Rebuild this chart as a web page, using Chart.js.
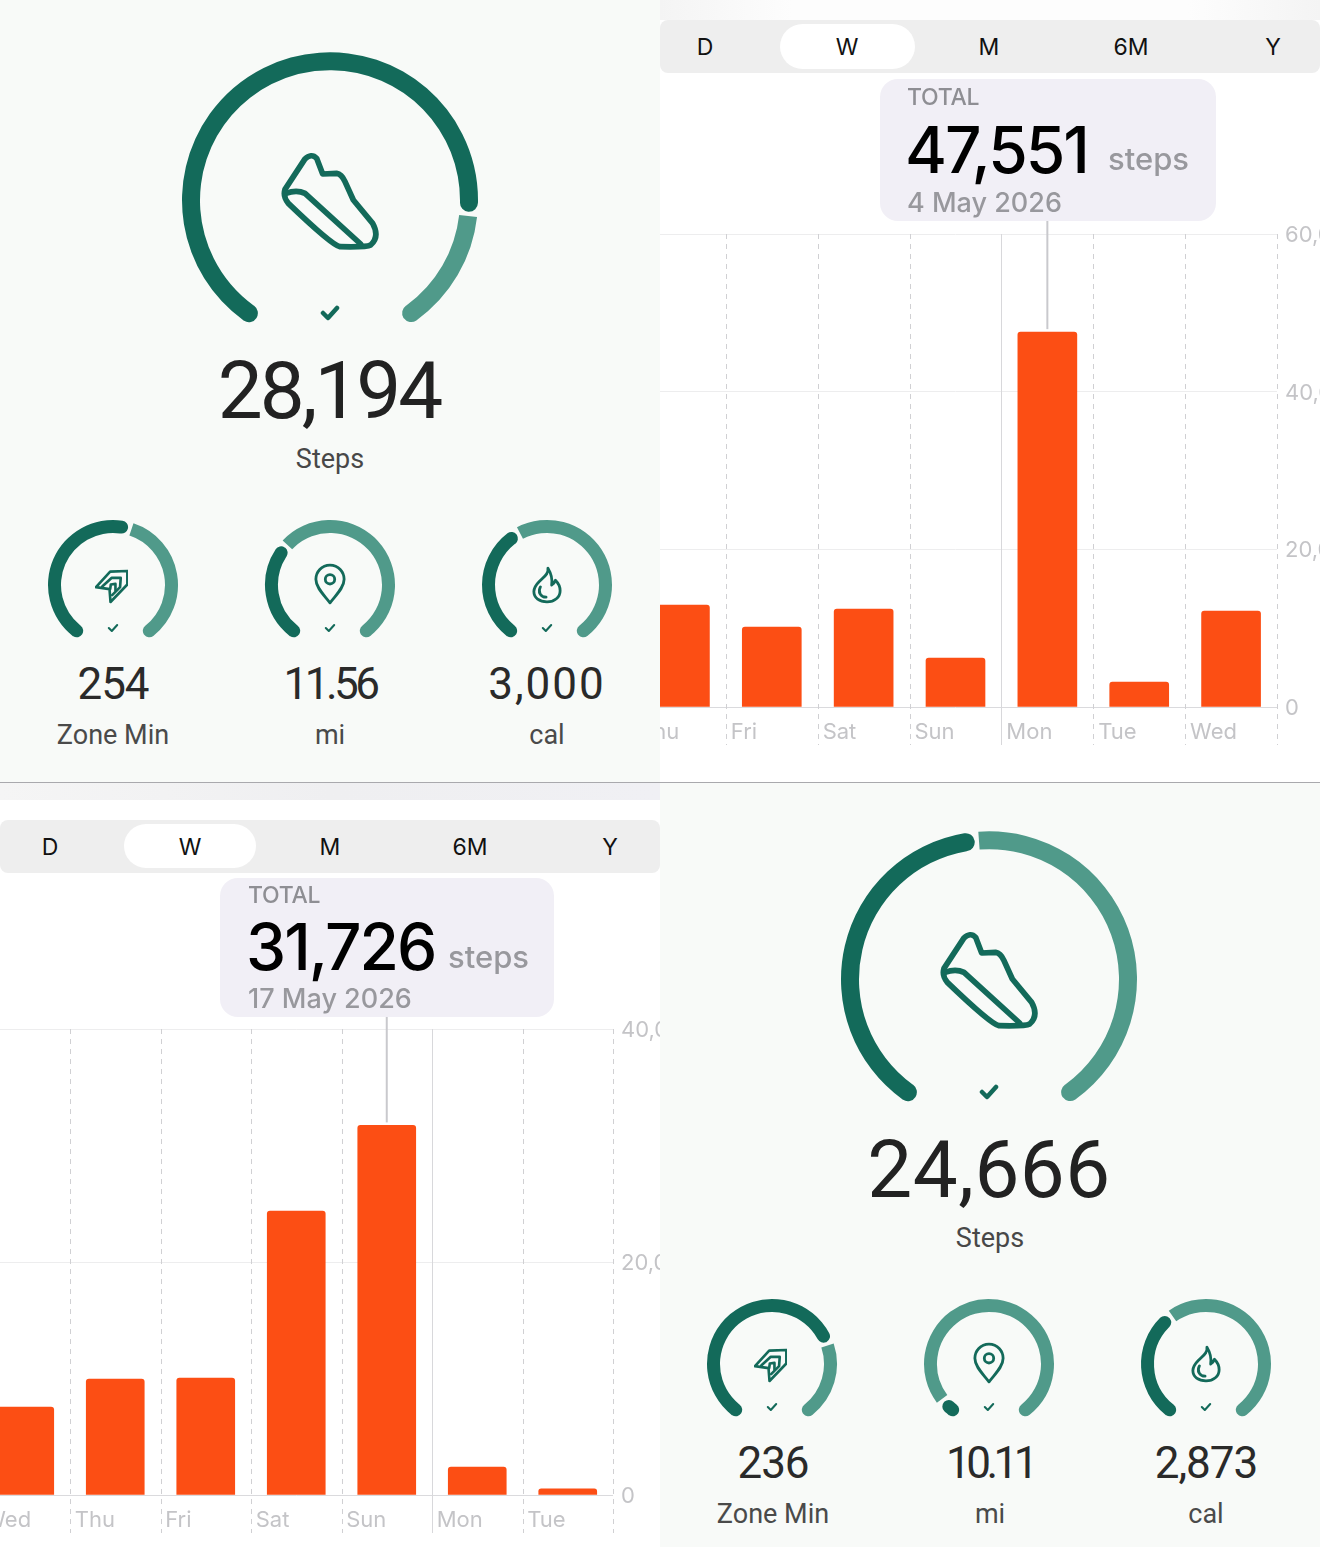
<!DOCTYPE html>
<html lang="en">
<head>
<meta charset="UTF-8">
<title>Steps</title>
<script src="https://cdn.jsdelivr.net/npm/chart.js"></script>
<style>
  html, body { margin: 0; padding: 0; background: #fff; }
  #page { position: relative; width: 1320px; height: 1547px; overflow: hidden; }
  .panel { position: absolute; overflow: hidden; }
  .mint { background: #f8faf8; }
  .t { position: absolute; white-space: nowrap; line-height: 1; }
  .c { transform: translateX(-50%); }
  .big { font: 400 80px Roboto, sans-serif; color: #222; letter-spacing: -3px; }
  .bigl { font: 400 27px Roboto, sans-serif; color: #484848; }
  .num { font: 400 44px Roboto, sans-serif; color: #2a2a2a; letter-spacing: -1px; }
  .lab { font: 400 27px Roboto, sans-serif; color: #4a4a4a; }
  .band { position: absolute; height: 53px; background: #eeeeee; border-radius: 8px; }
  .pill { position: absolute; height: 45px; background: #fff; border-radius: 23px; }
  .seg { font: 400 23px Inter, sans-serif; color: #111; }
  .box { position: absolute; background: #f1eff6; border-radius: 18px; z-index: 3; }
  .tot { font: 500 23px Inter, sans-serif; color: #8e8e93; letter-spacing: -.3px; }
  .val { font: 500 64px Inter, sans-serif; color: #000; letter-spacing: -2px; }
  .unit { font: 500 31px Inter, sans-serif; color: #98989d; }
  .day { font: 500 27px Inter, sans-serif; color: #98989d; }
  canvas { position: absolute; }
  svg.ic { position: absolute; fill: none; stroke: #136a5a; stroke-linejoin: round; stroke-linecap: round; }
</style>
</head>
<body>
<div id="page">
  <svg width="0" height="0" style="position:absolute">
    <symbol id="shoe" viewBox="390 360 300 300">
      <path d="M405 478 L464 388 Q484 368 500 385 L518 432 L560 430 Q575 432 585 455 L610 510 L668 580 Q690 620 662 645 Q650 652 570 650 Q545 645 415 520 Q398 500 405 478 Z"/>
      <path d="M408 490 Q440 478 465 490 L632 642"/>
    </symbol>
    <symbol id="chev" viewBox="0 0 100 100">
      <path d="M98 3 L46 5 L3 52 L44 58 L47 97 L98 44 Z"/>
      <path d="M22 50 L50 24 L78 24 L76 52 L52 76"/>
      <path d="M46 58 L48 44 L62 42 L62 62"/>
    </symbol>
    <symbol id="pin" viewBox="0 0 34 44">
      <path d="M17 2 C8 2 2 9 2 17 C2 26 11 34 17 42 C23 34 32 26 32 17 C32 9 26 2 17 2 Z"/>
      <circle cx="17" cy="17" r="5"/>
    </symbol>
    <symbol id="flame" viewBox="0 0 32 40">
      <path d="M17 2 C18 8 13 11 8 16 C4 20 2 23 2 27 C2 34 8 38 16 38 C24 38 30 33 30 26 C30 21 27 17 25 15 C24 18 23 19 21 20 C22 13 20 7 17 2 Z"/>
      <path d="M9 22 C6 27 9 33 15 33"/>
    </symbol>
    <symbol id="tick" viewBox="0 0 20 16">
      <path d="M3 8 L8 13 L17 3"/>
    </symbol>
  </svg>

  <div class="panel mint" id="p1" style="left:0;top:0;width:660px;height:782px"></div>
  <div class="panel mint" id="p4" style="left:660px;top:783px;width:660px;height:764px"></div>

  <div class="panel" id="p2" style="left:660px;top:0;width:660px;height:782px;background:#fff">
    <div style="position:absolute;left:0;top:0;width:660px;height:20px;background:linear-gradient(90deg,#f4f4f4,#fdfdfd 20%,#fdfdfd 80%,#f4f4f4)"></div>
    <div class="band" style="left:0;top:20px;width:660px"></div>
    <div class="pill" style="left:120px;top:24px;width:135px"></div>
    <div class="t c seg" style="left:45px;top:33px">D</div>
    <div class="t c seg" style="left:187px;top:33px">W</div>
    <div class="t c seg" style="left:329px;top:33px">M</div>
    <div class="t c seg" style="left:471px;top:33px">6M</div>
    <div class="t c seg" style="left:613px;top:33px">Y</div>
    <div class="box" style="left:220px;top:79px;width:336px;height:142px">
      <div class="t tot" style="left:27px;top:4px">TOTAL</div>
      <div class="t val" style="left:25px;top:32px">47,551</div>
      <div class="t unit" style="left:228px;top:61px">steps</div>
      <div class="t day" style="left:27px;top:107px">4 May 2026</div>
    </div>
    <canvas id="barsA" width="800" height="575" style="left:-60px;top:200px"></canvas>
  </div>

  <div class="panel" id="p3" style="left:0;top:783px;width:660px;height:764px;background:#fff">
    <div style="position:absolute;left:0;top:0;width:660px;height:17px;background:linear-gradient(90deg,#f5f5f5,#efeff1 50%,#f0f0f4)"></div>
    <div class="band" style="left:0;top:37px;width:660px"></div>
    <div class="pill" style="left:124px;top:41px;width:132px;height:44px"></div>
    <div class="t c seg" style="left:50px;top:50px">D</div>
    <div class="t c seg" style="left:190px;top:50px">W</div>
    <div class="t c seg" style="left:330px;top:50px">M</div>
    <div class="t c seg" style="left:470px;top:50px">6M</div>
    <div class="t c seg" style="left:610px;top:50px">Y</div>
    <div class="box" style="left:220px;top:95px;width:334px;height:139px">
      <div class="t tot" style="left:28px;top:3px">TOTAL</div>
      <div class="t val" style="left:26px;top:30px">31,726</div>
      <div class="t unit" style="left:228px;top:60px">steps</div>
      <div class="t day" style="left:28px;top:104px">17 May 2026</div>
    </div>
    <canvas id="barsB" width="800" height="560" style="left:-60px;top:200px"></canvas>
  </div>

  <div style="position:absolute;left:0;top:782px;width:1320px;height:1px;background:#a9a9ad"></div>

  <div class="t c big" style="left:329px;top:344px">28,194</div>
  <div class="t c bigl" style="left:330px;top:443px">Steps</div>
  <div class="t c num" style="left:113px;top:658px">254</div>
  <div class="t c lab" style="left:113px;top:719px">Zone Min</div>
  <div class="t c num" style="left:330px;top:658px;letter-spacing:-3.5px">11.56</div>
  <div class="t c lab" style="left:330px;top:719px">mi</div>
  <div class="t c num" style="left:547px;top:658px;letter-spacing:2px">3,000</div>
  <div class="t c lab" style="left:547px;top:719px">cal</div>

  <div class="t c big" style="left:989px;top:1123px;letter-spacing:.5px">24,666</div>
  <div class="t c bigl" style="left:990px;top:1222px">Steps</div>
  <div class="t c num" style="left:773px;top:1437px">236</div>
  <div class="t c lab" style="left:773px;top:1498px">Zone Min</div>
  <div class="t c num" style="left:990px;top:1437px;letter-spacing:-4.5px">10.11</div>
  <div class="t c lab" style="left:990px;top:1498px">mi</div>
  <div class="t c num" style="left:1206px;top:1437px">2,873</div>
  <div class="t c lab" style="left:1206px;top:1498px">cal</div>
</div>

<script>
// bar values
const weekLabelsA = ['Thu', 'Fri', 'Sat', 'Sun', 'Mon', 'Tue', 'Wed'];
const stepsA = [12940, 10150, 12430, 6220, 47551, 3170, 12180];
const weekLabelsB = ['Wed', 'Thu', 'Fri', 'Sat', 'Sun', 'Mon', 'Tue'];
const stepsB = [7550, 9960, 10040, 24380, 31726, 2400, 520];

// share of each ring that is dark, in the order steps, zone, mi, cal
const ringsA = [0.82, 0.55, 0.33, 0.395];
const ringsB = [0.48, 0.73, 0.06, 0.37];

const TEAL = '#136a5a';
const LIGHT = '#509a8a';
const ORANGE = '#fc4e14';
const SWEEP = 296;

// dashed day dividers, Monday gets a solid one, and the callout stem
const dayLines = {
  id: 'dayLines',
  beforeDatasetsDraw(chart, args, opts) {
    const x = chart.scales.x, ctx = chart.ctx, area = chart.chartArea;
    const cell = x.getPixelForValue(1) - x.getPixelForValue(0);
    ctx.save();
    ctx.lineWidth = 1;
    for (let i = 0; i <= opts.count; i++) {
      const px = Math.round(x.getPixelForValue(i) - cell / 2) + 0.5;
      ctx.strokeStyle = i === opts.solid ? '#d8d8db' : '#d0d0d3';
      ctx.setLineDash(i === opts.solid ? [] : [5, 5]);
      ctx.beginPath();
      ctx.moveTo(px, area.top);
      ctx.lineTo(px, area.bottom + 38);
      ctx.stroke();
    }
    ctx.restore();
  },
  afterDatasetsDraw(chart, args, opts) {
    const bar = chart.getDatasetMeta(0).data[opts.peak], ctx = chart.ctx;
    ctx.save();
    ctx.strokeStyle = '#c9c9cd';
    ctx.lineWidth = 2;
    ctx.beginPath();
    ctx.moveTo(bar.x, 0);
    ctx.lineTo(bar.x, bar.y - 3);
    ctx.stroke();
    ctx.restore();
  }
};

function barChart(id, labels, values, o) {
  const axisFont = { family: 'Inter, sans-serif', size: 22 };
  return new Chart(document.getElementById(id), {
    type: 'bar',
    data: { labels: labels, datasets: [{
      data: values,
      backgroundColor: ORANGE,
      barThickness: o.bar,
      borderRadius: 3,
      borderSkipped: 'bottom'
    }] },
    plugins: [dayLines],
    options: {
      responsive: false,
      animation: false,
      layout: { padding: { left: o.left, top: o.top, right: 0, bottom: 0 } },
      plugins: {
        legend: { display: false },
        tooltip: { enabled: false },
        dayLines: { count: labels.length, solid: o.solid, peak: o.peak }
      },
      scales: {
        x: {
          grid: { display: false },
          border: { display: false },
          afterFit(s) { s.height = o.xh; },
          ticks: {
            autoSkip: false,
            maxRotation: 0,
            align: 'start',
            labelOffset: o.labelOffset,
            padding: 4,
            color: '#c4c4c7',
            font: axisFont
          }
        },
        y: {
          position: 'right',
          min: 0,
          max: o.max,
          afterFit(s) { s.width = o.yw; },
          border: { display: false },
          grid: {
            drawTicks: false,
            color: (c) => c.tick.value === 0 ? '#dadadd' : '#ededee'
          },
          ticks: {
            stepSize: 20000,
            padding: 8,
            labelOffset: 1.5,
            color: '#c4c4c7',
            font: axisFont,
            callback: (v) => v.toLocaleString('en-US')
          }
        }
      }
    }
  });
}

barChart('barsA', weekLabelsA, stepsA, { bar: 59, left: 34, top: 34, solid: 4, peak: 4, max: 60000, xh: 68, yw: 123, labelOffset: -41 });
barChart('barsB', weekLabelsB, stepsB, { bar: 58, left: 39.5, top: 46, solid: 5, peak: 4, max: 40000, xh: 48, yw: 127, labelOffset: -40.5 });

function ring(cx, cy, R, thick, share, gap) {
  const side = 2 * R + 6;
  const cv = document.createElement('canvas');
  cv.width = side;
  cv.height = side;
  // Chart.js pushes a partial doughnut down inside its box, undo that here
  cv.style.left = (cx - side / 2) + 'px';
  cv.style.top = (cy - side / 2 - 0.076 * R) + 'px';
  document.getElementById('page').appendChild(cv);
  const cap = thick / 2;
  new Chart(cv, {
    type: 'doughnut',
    data: { datasets: [{
      data: [share, gap, 1 - share - gap],
      backgroundColor: [TEAL, 'rgba(0,0,0,0)', LIGHT],
      borderWidth: 0,
      borderRadius: [
        { outerStart: cap, innerStart: cap, outerEnd: cap, innerEnd: cap },
        0,
        { outerStart: 0, innerStart: 0, outerEnd: cap, innerEnd: cap }
      ]
    }] },
    options: {
      responsive: false,
      animation: false,
      rotation: -SWEEP / 2,
      circumference: SWEEP,
      radius: R,
      cutout: ((R - thick) / R * 100) + '%',
      plugins: { legend: { display: false }, tooltip: { enabled: false } }
    }
  });
}

function icon(name, x, y, w, h, sw) {
  const page = document.getElementById('page');
  const s = document.createElementNS('http://www.w3.org/2000/svg', 'svg');
  s.setAttribute('class', 'ic');
  s.setAttribute('width', w);
  s.setAttribute('height', h);
  s.style.left = x + 'px';
  s.style.top = y + 'px';
  s.style.strokeWidth = sw;
  s.innerHTML = '<use href="#' + name + '"/>';
  page.appendChild(s);
}

// one gauge block, big ring with three small ones under it
function block(dx, dy, shares) {
  ring(330 + dx, 200 + dy, 148, 18, shares[0], 0.006);
  ring(113 + dx, 585 + dy, 65, 13, shares[1], 0.012);
  ring(330 + dx, 585 + dy, 65, 13, shares[2], 0.012);
  ring(547 + dx, 585 + dy, 65, 13, shares[3], 0.012);
  icon('shoe', 280 + dx, 150 + dy, 100, 100, 17);
  icon('tick', 320 + dx, 305 + dy, 20, 16, 4.5);
  icon('chev', 95 + dx, 569 + dy, 33, 35, 8);
  icon('pin', 314 + dx, 563 + dy, 32, 42, 3);
  icon('flame', 532 + dx, 566 + dy, 30, 38, 3);
  icon('tick', 107 + dx, 623 + dy, 12, 10, 3.4);
  icon('tick', 324 + dx, 623 + dy, 12, 10, 3.4);
  icon('tick', 541 + dx, 623 + dy, 12, 10, 3.4);
}

block(0, 0, ringsA);
block(659, 779, ringsB);
</script>
</body>
</html>
